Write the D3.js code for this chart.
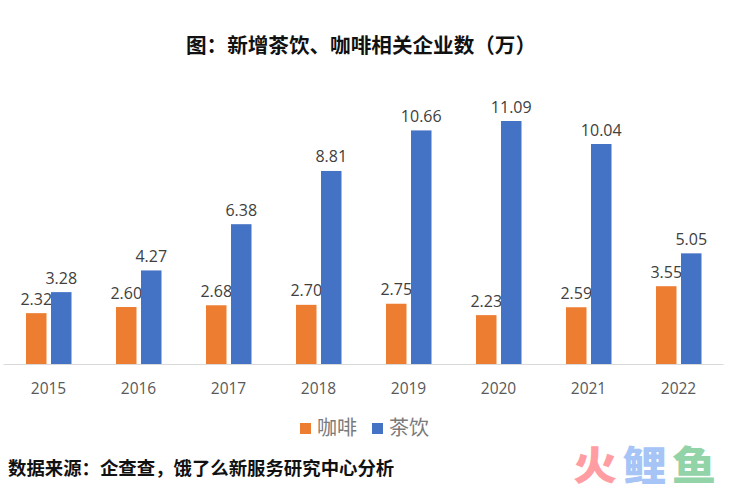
<!DOCTYPE html>
<html><head><meta charset="utf-8">
<script src="https://cdn.jsdelivr.net/npm/d3@7/dist/d3.min.js"></script>
<style>html,body{margin:0;padding:0;background:#fff}svg{display:block}text{font-family:"Open Sans","Noto Sans CJK SC",sans-serif}</style>
</head><body><svg id="c" width="741" height="491"></svg>
<script>
const years=["2015","2016","2017","2018","2019","2020","2021","2022"];
const coffee=[2.32,2.60,2.68,2.70,2.75,2.23,2.59,3.55];
const tea=[3.28,4.27,6.38,8.81,10.66,11.09,10.04,5.05];
const seriesNames=["咖啡","茶饮"];
const seriesColors=["#ED7D31","#4472C4"];
const titleText="图：新增茶饮、咖啡相关企业数（万）";
const sourceText="数据来源：企查查，饿了么新服务研究中心分析";
const watermark=[["火","#FF9DA3"],["鲤","#A6C4F5"],["鱼","#93D3A8"]];
const cjk='"Noto Sans CJK SC",sans-serif';
const svg=d3.select("#c");
const x=d3.scaleBand().domain(years).range([3.5,723.5]);
const y=d3.scaleLinear().domain([0,11.09]).range([364,121]);
const bw=20.5,off=[-22.5,2.5];
const series=[coffee,tea];
series.forEach((vals,s)=>{
  svg.append("g").selectAll("rect").data(vals).join("rect")
    .attr("x",(d,i)=>x(years[i])+x.bandwidth()/2+off[s]).attr("width",bw)
    .attr("y",d=>y(d)).attr("height",d=>y(0)-y(d)).attr("fill",seriesColors[s]);
  svg.append("g").selectAll("text").data(vals).join("text")
    .attr("x",(d,i)=>x(years[i])+x.bandwidth()/2+off[s]+bw/2)
    .attr("y",d=>y(d)-8.5).attr("text-anchor","middle")
    .attr("font-size",16).attr("fill","#404040").text(d=>d.toFixed(2));
});
svg.append("line").attr("x1",3.5).attr("x2",723.5).attr("y1",364.5).attr("y2",364.5).attr("stroke","#D9D9D9");
svg.append("g").selectAll("text").data(years).join("text")
  .attr("x",d=>x(d)+x.bandwidth()/2).attr("y",394).attr("text-anchor","middle")
  .attr("font-size",15.5).attr("fill","#595959").text(d=>d);
svg.append("text").attr("x",361).attr("y",53).attr("text-anchor","middle")
  .attr("font-size",20.6).attr("font-weight",700).attr("fill","#111").style("font-family",cjk).text(titleText);
const lx=[300,372];
seriesNames.forEach((n,i)=>{
  svg.append("rect").attr("x",lx[i]).attr("y",423).attr("width",11).attr("height",11).attr("fill",seriesColors[i]);
  svg.append("text").attr("x",lx[i]+17).attr("y",435).attr("font-size",20).attr("fill","#7a7a7a").style("font-family",cjk).text(n);
});
svg.append("text").attr("x",8).attr("y",475).attr("font-size",18.4).attr("font-weight",700).attr("fill","#111").style("font-family",cjk).text(sourceText);
watermark.forEach((w,i)=>{
  svg.append("text").attr("transform",`translate(${573+i*49.5},480) scale(1.1,1)`).attr("font-size",40).attr("font-weight",900).attr("fill",w[1]).style("font-family",cjk).text(w[0]);
});
</script></body></html>
